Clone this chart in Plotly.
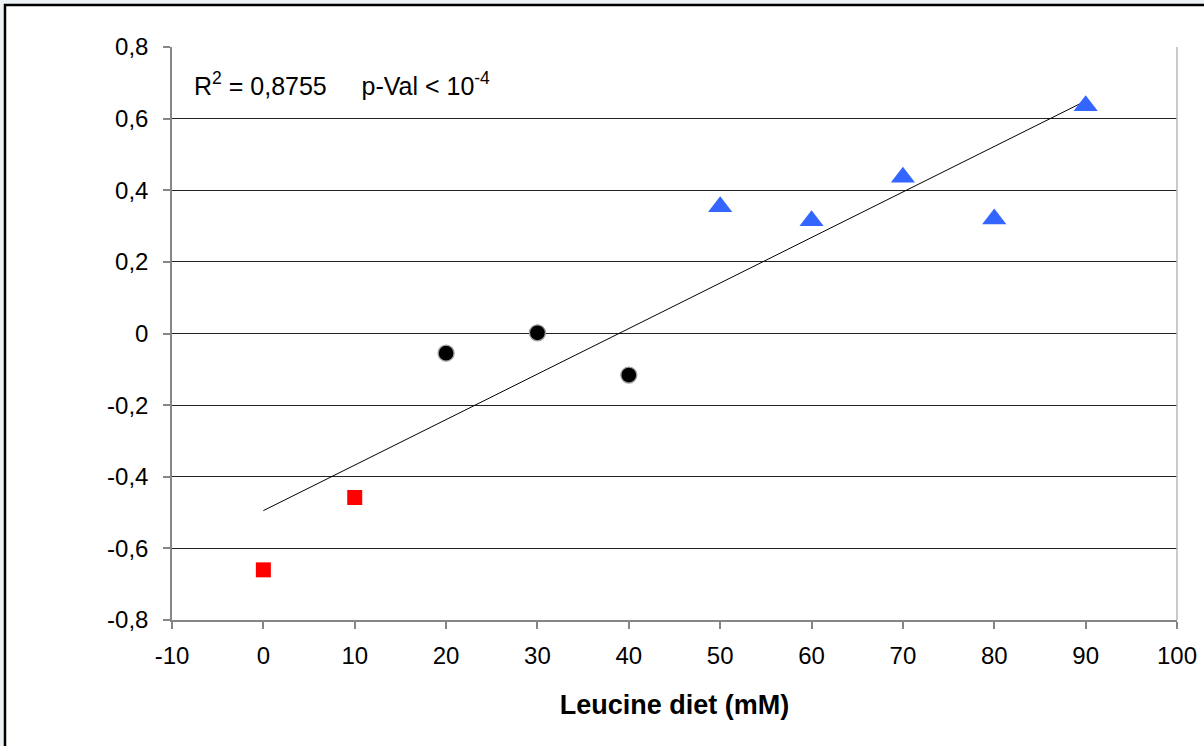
import numpy as np
import plotly.graph_objects as go

# Leucine concentration groups (mM) and measured response
low_x = [0, 10]
low_y = [-0.66, -0.458]
mid_x = [20, 30, 40]
mid_y = [-0.055, 0.002, -0.116]
high_x = [50, 60, 70, 80, 90]
high_y = [0.354, 0.315, 0.436, 0.32, 0.636]

x_ticks = [-10, 0, 10, 20, 30, 40, 50, 60, 70, 80, 90, 100]
y_ticks = [-0.8, -0.6, -0.4, -0.2, 0, 0.2, 0.4, 0.6, 0.8]
y_tick_text = ["-0,8", "-0,6", "-0,4", "-0,2", "0", "0,2", "0,4", "0,6", "0,8"]

# Linear regression over all points
all_x = np.array(low_x + mid_x + high_x, dtype=float)
all_y = np.array(low_y + mid_y + high_y, dtype=float)
slope, intercept = np.polyfit(all_x, all_y, 1)
fit_x = np.array([all_x.min(), all_x.max()])
fit_y = slope * fit_x + intercept

font_family = "Liberation Sans, Arial, sans-serif"

fig = go.Figure()
fig.add_trace(go.Scatter(x=fit_x, y=fit_y, mode="lines",
                         line=dict(color="black", width=1), hoverinfo="skip"))
fig.add_trace(go.Scatter(x=low_x, y=low_y, mode="markers",
                         marker=dict(symbol="square", size=15, color="#ff0000")))
fig.add_trace(go.Scatter(x=mid_x, y=mid_y, mode="markers",
                         marker=dict(symbol="circle", size=16, color="black",
                                     line=dict(color="#a0a0a0", width=1.3))))
fig.add_trace(go.Scatter(x=high_x, y=high_y, mode="markers",
                         marker=dict(symbol="triangle-up", size=21, color="#3366ff")))

# left edge of the outer frame sits 5px from the page edge
W, H = 1204, 746
ml, mr, mt, mb = 172, 27, 47, 126
pw, ph = W - ml - mr, H - mt - mb
frame_x0 = (5 - ml) / pw
frame_y1 = (H - mb - 5) / ph

fig.update_layout(
    width=W, height=H,
    margin=dict(l=ml, r=mr, t=mt, b=mb),
    paper_bgcolor="#edf2f5",
    plot_bgcolor="rgba(0,0,0,0)",
    showlegend=False,
    font=dict(family=font_family, size=24, color="black"),
    shapes=[
        dict(type="rect", xref="paper", yref="paper", layer="below",
             x0=frame_x0, x1=1.2, y0=-0.4, y1=frame_y1,
             fillcolor="white", line=dict(color="black", width=2.5)),
        dict(type="line", xref="paper", yref="paper", x0=1, x1=1, y0=0, y1=1,
             line=dict(color="#b8b8b8", width=1.5)),
    ],
    annotations=[
        dict(xref="paper", yref="paper", x=(192 - ml) / pw, y=(H - mb - 84) / ph,
             xanchor="left", yanchor="middle", showarrow=False,
             text="R<sup>2</sup> = 0,8755     p-Val < 10<sup>-4</sup>",
             font=dict(family=font_family, size=25, color="black")),
    ],
)

fig.update_xaxes(
    range=[-10, 100], tickvals=x_ticks, ticktext=[str(v) for v in x_ticks],
    automargin=False,
    showgrid=False, zeroline=False,
    showline=True, linecolor="#868686", linewidth=1.5,
    ticks="outside", ticklen=7, tickcolor="#868686", tickwidth=1.5,
    ticklabelstandoff=6,
    tickfont=dict(size=24),
    title=dict(text="<b>Leucine diet (mM)</b>", standoff=28,
               font=dict(family=font_family, size=27)),
)
fig.update_yaxes(
    range=[-0.8, 0.8], tickvals=y_ticks, ticktext=y_tick_text,
    automargin=False,
    showgrid=True, gridcolor="#222222", gridwidth=1, zeroline=False,
    showline=True, linecolor="#868686", linewidth=1.5,
    ticks="outside", ticklen=7, tickcolor="#868686", tickwidth=1.5,
    ticklabelstandoff=10,
    tickfont=dict(size=24),
)

fig.write_html("out.html")
